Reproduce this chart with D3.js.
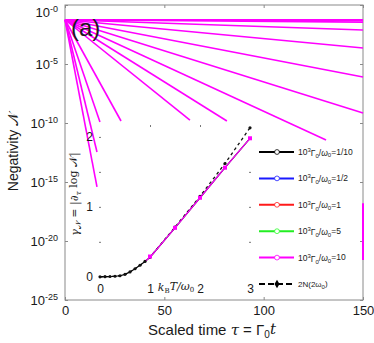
<!DOCTYPE html>
<html>
<head>
<meta charset="utf-8">
<script src="https://cdn.jsdelivr.net/npm/d3@7"></script>
<style>
  body { margin: 0; background: #fff; }
  text { font-family: "Liberation Sans", Arial, sans-serif; fill: #1a1a1a; }
</style>
</head>
<body>
<div id="chart"></div>
<script>
// main panel: fan of decay lines, log10 N vs tau
var fanStartLog = -1.25
var fanTauEnd = [150, 150, 150, 150, 150, 150, 150, 131.4, 81.5, 62.9, 28.2, 17.6, 16.1, 16.1]
var fanLogEnd = [-1.25, -1.3, -1.45, -2.12, -3.64, -6.1, -9.15, -11.44, -9.83, -9.75, -9.83, -9.92, -12.46, -15.42]
var edgeSegLog = [-16.8, -21.6]   // stray magenta piece on the right frame

var xTicks = [0, 50, 100, 150]
var yTickExp = [0, -5, -10, -15, -20, -25]

// inset: decay rate vs temperature
var insetT = [0, 0.1, 0.2, 0.3, 0.4, 0.5, 0.6, 0.7, 0.8, 0.9, 1.0, 1.5, 2.0, 2.5, 3.0]
var insetRate = [0, 0.002, 0.004, 0.008, 0.015, 0.035, 0.07, 0.115, 0.165, 0.22, 0.28, 0.70, 1.13, 1.56, 1.98]
var insetDashed = [0, 0.002, 0.004, 0.008, 0.015, 0.035, 0.07, 0.115, 0.165, 0.22, 0.28, 0.71, 1.15, 1.62, 2.13]
var magentaSqT = [1.0, 1.5, 2.0, 2.5, 3.0]
var magentaSq = [0.29, 0.70, 1.13, 1.56, 1.98]

var legendRatios = ['1/10', '1/2', '1', '5', '10']
var legendColors = ['#000000', '#1a1aff', '#ff1a1a', '#22ee22', '#ff00ff']

var W = 374, H = 343
var svg = d3.select('#chart').append('svg')
    .attr('width', W)
    .attr('height', H)

var x = d3.scaleLinear().domain([0, 150]).range([65, 363])
var y = d3.scaleLinear().domain([0, -25]).range([5, 300])

// frame
svg.append('rect')
    .attr('x', 65).attr('y', 5)
    .attr('width', 298).attr('height', 295)
    .attr('fill', 'none')
    .attr('stroke', '#8a8a8a')
    .attr('stroke-width', 1)

// axes
var xAxis = svg.append('g')
    .attr('transform', 'translate(0,300)')
    .call(d3.axisBottom(x).tickValues(xTicks).tickSize(-3).tickPadding(6))
xAxis.select('.domain').remove()
xAxis.selectAll('line').attr('stroke', '#8a8a8a')
xAxis.selectAll('text').attr('font-size', 13).style('font-family', '"Liberation Sans", Arial, sans-serif')

var xTop = svg.append('g')
    .attr('transform', 'translate(0,5)')
    .call(d3.axisTop(x).tickValues(xTicks).tickSize(-3).tickFormat(''))
xTop.select('.domain').remove()
xTop.selectAll('line').attr('stroke', '#8a8a8a')

var yAxis = svg.append('g')
    .attr('transform', 'translate(65,0)')
    .call(d3.axisLeft(y).tickValues(yTickExp).tickSize(-3).tickPadding(7))
yAxis.select('.domain').remove()
yAxis.selectAll('line').attr('stroke', '#8a8a8a')
yAxis.selectAll('text')
    .attr('font-size', 13)
    .style('font-family', '"Liberation Sans", Arial, sans-serif')
    .each(function(d) {
        var t = d3.select(this).text(null)
        if (d === 0) t.attr('y', 7)
        t.append('tspan').text('10')
        t.append('tspan').attr('dy', '-0.55em').attr('font-size', 9).text('-' + Math.abs(d))
    })

var yRight = svg.append('g')
    .attr('transform', 'translate(363,0)')
    .call(d3.axisRight(y).tickValues(yTickExp).tickSize(-3).tickFormat(''))
yRight.select('.domain').remove()
yRight.selectAll('line').attr('stroke', '#8a8a8a')

// fan lines
var fan = fanTauEnd.map((t, i) => [[0, fanStartLog], [t, fanLogEnd[i]]])
var line = d3.line().x(d => x(d[0])).y(d => y(d[1]))

svg.append('g').selectAll('path')
    .data(fan)
    .enter()
    .append('path')
    .attr('d', line)
    .attr('fill', 'none')
    .attr('stroke', '#ff00ff')
    .attr('stroke-width', 1.6)

svg.append('path')
    .attr('d', line([[150, edgeSegLog[0]], [150, edgeSegLog[1]]]))
    .attr('stroke', '#ff00ff')
    .attr('stroke-width', 2)

// labels
svg.append('text')
    .attr('x', 71).attr('y', 36)
    .attr('font-size', 24)
    .text('(a)')

svg.append('text')
    .attr('transform', 'translate(18,152) rotate(-90)')
    .attr('text-anchor', 'middle')
    .attr('font-size', 14)
    .text('Negativity \u{1D4A9}')

var xl = svg.append('text')
    .attr('x', 212).attr('y', 335)
    .attr('text-anchor', 'middle')
    .attr('font-size', 15)
xl.append('tspan').text('Scaled time ')
xl.append('tspan').attr('font-style', 'italic').style('font-family', '"DejaVu Serif", serif').text('\u03C4')
xl.append('tspan').text(' = \u0393')
xl.append('tspan').attr('font-size', 10).attr('dy', '0.3em').text('0')
xl.append('tspan').attr('dy', '-0.3em').attr('font-style', 'italic').style('font-family', '"DejaVu Serif", serif').text('t')

// inset
var ix = d3.scaleLinear().domain([0, 3]).range([100, 250])
var iy = d3.scaleLinear().domain([-0.06, 2.17]).range([281, 125])

var inL = svg.append('g').attr('transform', 'translate(99,0)')
    .call(d3.axisLeft(iy).tickValues([0, 0.5, 1, 1.5, 2]).tickSize(-2).tickPadding(6)
        .tickFormat(d => Number.isInteger(d) ? d : ''))
var inR = svg.append('g').attr('transform', 'translate(251,0)')
    .call(d3.axisRight(iy).tickValues([0.5, 1, 1.5, 2]).tickSize(-2).tickFormat(''))
var inB = svg.append('g').attr('transform', 'translate(0,281)')
    .call(d3.axisBottom(ix).tickValues([0, 1, 2, 3]).tickSize(0).tickPadding(3).tickFormat(d3.format('d')))
var inT = svg.append('g').attr('transform', 'translate(0,125)')
    .call(d3.axisTop(ix).tickValues([1, 2]).tickSize(-2).tickFormat(''))
;[inL, inR, inB, inT].forEach(g => {
    g.select('.domain').remove()
    g.selectAll('line').attr('stroke', '#777')
    g.selectAll('text').attr('font-size', 12).style('font-family', '"Liberation Sans", Arial, sans-serif')
})

var il = svg.append('text')
    .attr('x', 176).attr('y', 291)
    .attr('text-anchor', 'middle')
    .attr('font-size', 11)
    .style('font-family', '"DejaVu Serif", serif')
    .attr('font-style', 'italic')
il.append('tspan').text('k')
il.append('tspan').attr('font-size', 7).attr('dy', '0.3em').attr('font-style', 'normal').text('B')
il.append('tspan').attr('dy', '-0.3em').text('T/\u03C9')
il.append('tspan').attr('font-size', 7).attr('dy', '0.3em').attr('font-style', 'normal').text('0')

var yl = svg.append('text')
    .attr('transform', 'translate(79,194) rotate(-90)')
    .attr('text-anchor', 'middle')
    .attr('font-size', 11)
    .style('font-family', '"DejaVu Serif", serif')
yl.append('tspan').attr('font-style', 'italic').text('\u03B3')
yl.append('tspan').attr('font-size', 8).attr('dy', '0.3em').text('\u{1D4A9}')
yl.append('tspan').attr('dy', '-0.3em').text(' = |\u2202')
yl.append('tspan').attr('font-size', 8).attr('dy', '0.3em').attr('font-style', 'italic').text('\u03C4')
yl.append('tspan').attr('dy', '-0.3em').text(' log \u{1D4A9}|')

var pts = insetT.map((t, i) => [t, insetRate[i]])
var dpts = insetT.map((t, i) => [t, insetDashed[i]])
var iline = d3.line().x(d => ix(d[0])).y(d => iy(d[1]))

svg.append('path').attr('d', iline(dpts))
    .attr('fill', 'none').attr('stroke', '#111').attr('stroke-width', 1.3)
    .attr('stroke-dasharray', '3,3')
svg.append('path').attr('d', iline(pts))
    .attr('fill', 'none').attr('stroke', '#000').attr('stroke-width', 1.2)
svg.append('path').attr('d', iline(pts.filter(d => d[0] >= 0.9)))
    .attr('fill', 'none').attr('stroke', '#ff00ff').attr('stroke-width', 1.2)
svg.append('g').selectAll('circle')
    .data(dpts)
    .enter()
    .append('circle')
    .attr('cx', d => ix(d[0])).attr('cy', d => iy(d[1]))
    .attr('r', 1.6)
    .attr('fill', '#111')
svg.append('g').selectAll('rect')
    .data(magentaSqT.map((t, i) => [t, magentaSq[i]]))
    .enter()
    .append('rect')
    .attr('x', d => ix(d[0]) - 2).attr('y', d => iy(d[1]) - 2)
    .attr('width', 4).attr('height', 4)
    .attr('fill', '#ff00ff')

// legend
var legY = d3.scalePoint().domain(d3.range(6)).range([152, 284])
var leg = svg.append('g')
legendRatios.forEach((r, i) => {
    var ly = legY(i)
    leg.append('line')
        .attr('x1', 259).attr('x2', 294).attr('y1', ly).attr('y2', ly)
        .attr('stroke', legendColors[i]).attr('stroke-width', 2)
    leg.append('circle')
        .attr('cx', 277).attr('cy', ly).attr('r', 2.4)
        .attr('fill', '#fff').attr('stroke', d3.color(legendColors[i]).brighter(0.6)).attr('stroke-width', 0.8)
    var t = leg.append('text').attr('x', 298).attr('y', ly + 3).attr('font-size', 8.5)
    t.append('tspan').text('10')
    t.append('tspan').attr('font-size', 6).attr('dy', '-0.5em').text('3')
    t.append('tspan').attr('dy', '0.5em').text('\u0393')
    t.append('tspan').attr('font-size', 6).attr('dy', '0.3em').text('0')
    t.append('tspan').attr('dy', '-0.3em').text('/')
    t.append('tspan').attr('font-style', 'italic').text('\u03C9')
    t.append('tspan').attr('font-size', 6).attr('dy', '0.3em').text('0')
    t.append('tspan').attr('dy', '-0.3em').text('=' + r)
})
var lyL = legY(5)
leg.append('line')
    .attr('x1', 259).attr('x2', 294).attr('y1', lyL).attr('y2', lyL)
    .attr('stroke', '#000').attr('stroke-width', 2).attr('stroke-dasharray', '6,3')
leg.append('path')
    .attr('d', d3.symbol(d3.symbolDiamond, 22)())
    .attr('transform', 'translate(277,' + lyL + ')')
    .attr('fill', '#000')
var lt = leg.append('text').attr('x', 298).attr('y', lyL + 3).attr('font-size', 8)
lt.append('tspan').text('2N(2\u03C9')
lt.append('tspan').attr('font-size', 6).attr('dy', '0.3em').text('0')
lt.append('tspan').attr('dy', '-0.3em').text(')')
</script>
</body>
</html>
